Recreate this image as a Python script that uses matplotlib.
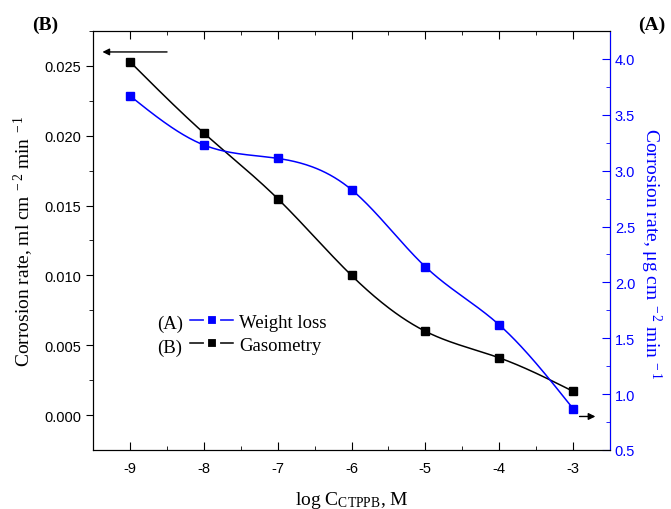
import matplotlib
matplotlib.use("Agg")
import matplotlib.pyplot as plt
import numpy as np

# data
log_c = [-9, -8, -7, -6, -5, -4, -3]
gasometry = [0.0253, 0.0202, 0.0155, 0.0100, 0.0060, 0.0041, 0.0017]   # ml cm-2 min-1
weight_loss = [3.67, 3.23, 3.11, 2.83, 2.14, 1.62, 0.87]             # ug cm-2 min-1


def natural_spline(x, y, n=300):
    # plain natural cubic spline, used only to draw the smooth connecting line
    x = np.asarray(x, float)
    y = np.asarray(y, float)
    k = len(x)
    h = np.diff(x)
    A = np.zeros((k, k))
    b = np.zeros(k)
    A[0, 0] = A[-1, -1] = 1
    for i in range(1, k - 1):
        A[i, i - 1] = h[i - 1]
        A[i, i] = 2 * (h[i - 1] + h[i])
        A[i, i + 1] = h[i]
        b[i] = 3 * ((y[i + 1] - y[i]) / h[i] - (y[i] - y[i - 1]) / h[i - 1])
    c = np.linalg.solve(A, b)
    xs = np.linspace(x[0], x[-1], n)
    idx = np.clip(np.searchsorted(x, xs) - 1, 0, k - 2)
    dx = xs - x[idx]
    bb = (y[idx + 1] - y[idx]) / h[idx] - h[idx] * (2 * c[idx] + c[idx + 1]) / 3
    dd = (c[idx + 1] - c[idx]) / (3 * h[idx])
    ys = y[idx] + bb * dx + c[idx] * dx ** 2 + dd * dx ** 3
    return xs, ys


plt.rcParams['mathtext.fontset'] = 'custom'
plt.rcParams['mathtext.rm'] = 'Liberation Serif'
plt.rcParams['mathtext.it'] = 'Liberation Serif:italic'
plt.rcParams['axes.unicode_minus'] = False
serif = 'Liberation Serif'
sans = 'Liberation Sans'
blue = '#0000ff'

fig = plt.figure(figsize=(6.71, 5.10), dpi=100)
ax = fig.add_axes([93 / 671, 1 - 451 / 510, (610 - 93) / 671, (451 - 32) / 510])
ax2 = ax.twinx()

# Gasometry (B), left axis
xs, ys = natural_spline(log_c, gasometry)
ax.plot(xs, ys, color='black', lw=1.1)
ax.plot(log_c, gasometry, 's', color='black', ms=6.3)
# legend handles: the line stops short of the marker, as in the original
hb, = ax.plot([], [], '-s', color='black', lw=1.1, ms=8, mec='white', mew=3)

# Weight loss (A), right axis
xs, ys = natural_spline(log_c, weight_loss)
ax2.plot(xs, ys, color=blue, lw=1.1)
ax2.plot(log_c, weight_loss, 's', color=blue, ms=6.3)
ha, = ax.plot([], [], '-s', color=blue, lw=1.1, ms=8, mec='white', mew=3)

ax.set_xlim(-9.5, -2.5)
ax.set_ylim(-0.0025, 0.0275)
ax2.set_ylim(0.5, 4.25)

ax.set_xticks(log_c)
ax.set_xticks(np.arange(-9.5, -2.4, 0.5), minor=True)
ax.set_yticks([0.0, 0.005, 0.010, 0.015, 0.020, 0.025])
ax.set_yticks(np.arange(0.0, 0.0276, 0.0025), minor=True)
ax.yaxis.set_major_formatter(matplotlib.ticker.FormatStrFormatter('%.3f'))
ax2.set_yticks([0.5, 1.0, 1.5, 2.0, 2.5, 3.0, 3.5, 4.0])
ax2.set_yticks(np.arange(0.75, 4.26, 0.5), minor=True)
ax2.yaxis.set_major_formatter(matplotlib.ticker.FormatStrFormatter('%.1f'))

ax.tick_params(axis='x', which='both', direction='in', top=True, labelsize=10.5)
ax.tick_params(axis='x', which='major', length=6, pad=8)
ax.tick_params(axis='x', which='minor', length=3)
ax.tick_params(axis='y', which='major', direction='out', length=5, labelsize=10.5)
ax.tick_params(axis='y', which='minor', direction='out', length=3)
ax2.tick_params(axis='y', which='major', direction='in', length=6, colors=blue, labelsize=10.5)
ax2.tick_params(axis='y', which='minor', direction='in', length=3, colors=blue)
for lab in ax.get_xticklabels() + ax.get_yticklabels() + ax2.get_yticklabels():
    lab.set_family(sans)
ax2.spines['right'].set_color(blue)

ax.set_xlabel(r'log C$_{\mathrm{CTPPB}}$, M', family=serif, fontsize=14, labelpad=10)
ax.set_ylabel(r'Corrosion rate, ml cm$^{\ -2}$ min$^{\ -1}$', family=serif, fontsize=14, labelpad=6)
ax2.set_ylabel(r'Corrosion rate, $\mathrm{\mu}$g cm$^{\ -2}$ min$^{\ -1}$', family=serif,
               fontsize=14, color=blue, rotation=-90, labelpad=20)
ax2.yaxis.label.set_y(0.47)

# arrows pointing to the matching axis
ax.annotate('', xy=(-9.41, 0.0260), xytext=(-8.46, 0.0260),
            arrowprops=dict(arrowstyle='-|>', color='black', lw=1, mutation_scale=10))
ax2.annotate('', xy=(-2.66, 0.80), xytext=(-2.95, 0.80),
             arrowprops=dict(arrowstyle='-|>', color='black', lw=1, mutation_scale=10))

leg = ax.legend([ha, hb], ['Weight loss', 'Gasometry'], loc='lower left',
                bbox_to_anchor=(0.155, 0.19), frameon=False, handlelength=2.3,
                handletextpad=0.32, labelspacing=0.3, prop={'family': serif, 'size': 13.5})
ax.text(0.124, 0.303, '(A)', transform=ax.transAxes, family=serif, fontsize=13.5, va='center')
ax.text(0.124, 0.246, '(B)', transform=ax.transAxes, family=serif, fontsize=13.5, va='center')

fig.text(45 / 671, 1 - 25 / 510, '(B)', family=serif, fontsize=14, weight='bold', ha='center', va='center')
fig.text(652 / 671, 1 - 25 / 510, '(A)', family=serif, fontsize=14, weight='bold', ha='center', va='center')

fig.savefig('out.png', dpi=100)
